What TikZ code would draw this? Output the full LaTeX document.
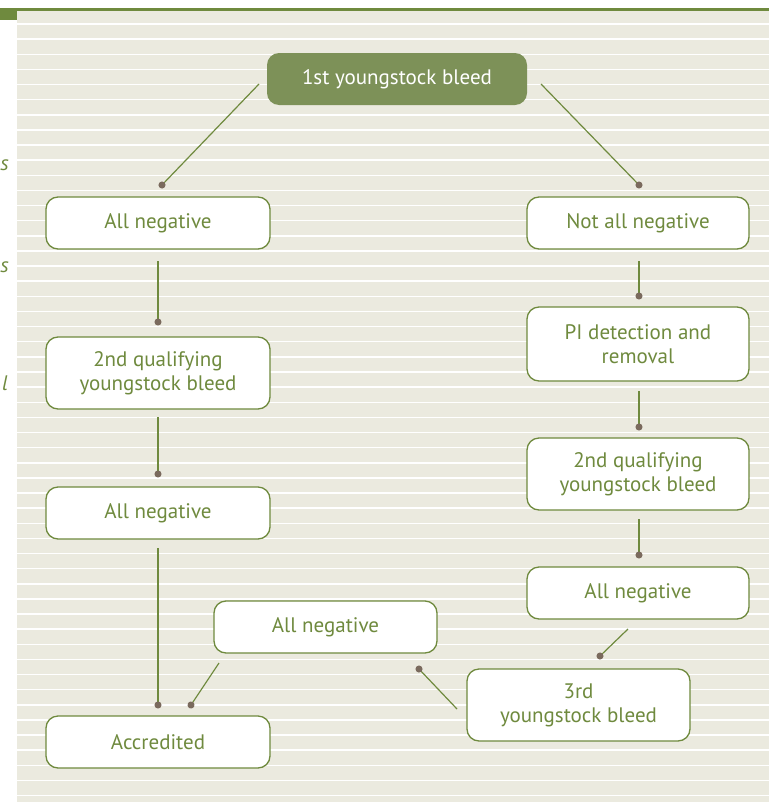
\documentclass[tikz,border=0pt]{standalone}
\usepackage{fontspec}
\setmainfont{PT Sans}
\usetikzlibrary{arrows.meta}
\definecolor{panel}{HTML}{EBEADF}
\definecolor{leaf}{HTML}{6F8A3E}
\definecolor{leafbox}{HTML}{7D9158}
\definecolor{dotc}{HTML}{7A6A5D}
\tikzset{
  stage/.style={draw=leaf,line width=1.3pt,fill=white,rounded corners=12pt,
    minimum width=224pt,minimum height=52pt,align=center,text=leaf,
    font=\fontsize{21}{24}\selectfont},
  start/.style={stage,draw=none,fill=leafbox,text=white,minimum width=260pt},
  link/.style={draw=leaf,line width=1.2pt,-{Circle[length=7pt,color=dotc]},shorten >=-3.5pt}
}
\begin{document}
\begin{tikzpicture}
        [x=1pt,y=-1pt]
        \useasboundingbox (0,0) rectangle (769,803);
        % background panel
        \fill[panel] (17,11) rectangle (769,802);
        \foreach \k in {0,...,51}
        {\draw[white,line width=1.5pt] (17,24+15.13*\k) -- (769,24+15.13*\k);}
        \fill[leaf] (0,8) rectangle (769,11);
        \fill[leaf] (0,8) rectangle (17,20);

        % cut off side text
        \begin{scope}[text=leaf,font=\itshape\fontsize{21}{24}\selectfont]
          \node[anchor=east,inner sep=0pt] (cutA) at (9,165) {s};
          \node[anchor=east,inner sep=0pt] (cutB) at (9,267) {s};
          \node[anchor=east,inner sep=0pt] (cutC) at (8,383) {l};
        \end{scope}

        % boxes
        \node[start] (first) at (397,79) {1st youngstock bleed};
        \node[stage] (negA) at (158,223) {All negative};
        \node[stage,minimum width=222pt] (notneg) at (638,223) {Not all negative};
        \node[stage,minimum height=72pt] (qualA) at (158,373) {2nd qualifying\\youngstock bleed};
        \node[stage,minimum width=222pt,minimum height=74pt] (pidet) at (638,344) {PI detection and\\removal};
        \node[stage,minimum width=222pt,minimum height=72pt] (qualB) at (638,474) {2nd qualifying\\youngstock bleed};
        \node[stage] (negB) at (158,513) {All negative};
        \node[stage,minimum width=222pt] (negC) at (638,593) {All negative};
        \node[stage,minimum width=223pt] (negD) at (325.5,627) {All negative};
        \node[stage,minimum width=223pt,minimum height=72pt] (third) at (578.5,705) {3rd\\youngstock bleed};
        \node[stage] (accr) at (158,742) {Accredited};

        % connector ends
        \coordinate (fA) at (259,84);   \coordinate (fAe) at (162,185);
        \coordinate (fB) at (541,84);   \coordinate (fBe) at (639,185);
        \coordinate (nA) at (158,261);  \coordinate (nAe) at (158,322);
        \coordinate (nB) at (639,261);  \coordinate (nBe) at (639,296);
        \coordinate (pB) at (639,391);  \coordinate (pBe) at (639,427);
        \coordinate (qA) at (158,417);  \coordinate (qAe) at (158,474);
        \coordinate (qB) at (639,519);  \coordinate (qBe) at (639,555);
        \coordinate (gA) at (158,548);  \coordinate (gAe) at (158,705);
        \coordinate (gC) at (628,629);  \coordinate (gCe) at (600,656);
        \coordinate (tB) at (457,709);  \coordinate (tBe) at (419,669);
        \coordinate (gD) at (219,663);  \coordinate (gDe) at (191,705);

        \draw[link] (fA) -- (fAe);
        \draw[link] (fB) -- (fBe);
        \draw[link] (nA) -- (nAe);
        \draw[link] (nB) -- (nBe);
        \draw[link] (pB) -- (pBe);
        \draw[link] (qA) -- (qAe);
        \draw[link] (qB) -- (qBe);
        \draw[link] (gA) -- (gAe);
        \draw[link] (gC) -- (gCe);
        \draw[link] (tB) -- (tBe);
        \draw[link] (gD) -- (gDe);
      \end{tikzpicture}
\end{document}
